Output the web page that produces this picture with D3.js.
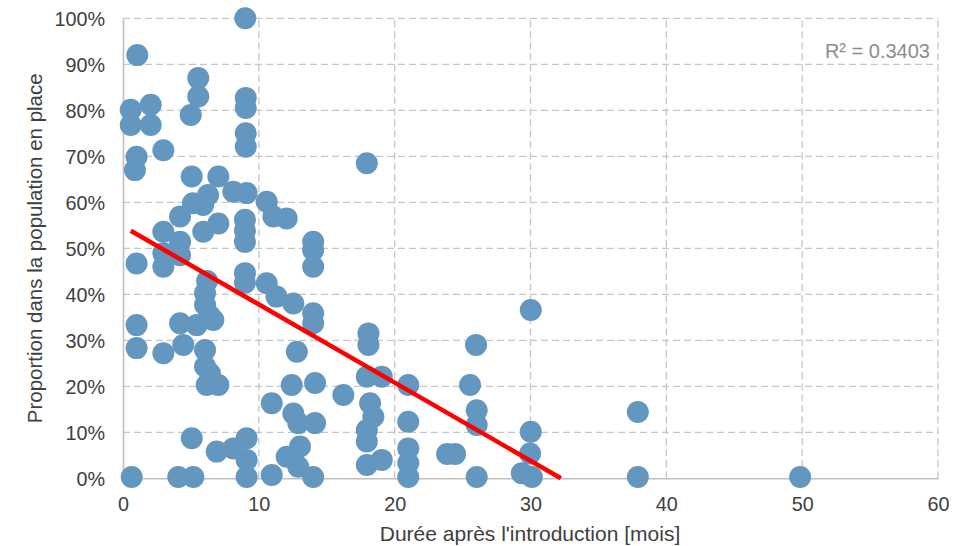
<!DOCTYPE html>
<html>
<head>
<meta charset="utf-8">
<script src="https://cdn.jsdelivr.net/npm/d3@7/dist/d3.min.js"></script>
<style>
  html, body { margin: 0; padding: 0; background: #ffffff; }
  svg { display: block; }
</style>
</head>
<body>
<svg id="chart" width="969" height="546"></svg>
<script>
// ---- Data ----
const months = [
  9.0, 1.05, 0.57, 2.04, 0.57, 2.04, 2.97, 1.0, 0.88, 5.54, 5.54, 4.99,
  9.04, 9.04, 9.04, 9.04, 5.06, 7.02, 5.15, 6.26, 5.9, 8.12, 9.1, 10.58,
  11.07, 12.05, 4.2, 2.97, 5.91, 7.02, 8.98, 8.98, 8.98, 4.2, 4.2, 2.97,
  2.97, 1.0, 6.19, 6.04, 6.04, 6.4, 8.98, 8.98, 10.58, 11.3, 12.54, 1.0,
  4.2, 5.43, 6.65, 1.0, 2.97, 4.44, 6.04, 6.04, 6.4, 6.16, 7.02, 12.8,
  10.95, 12.42, 14.14, 12.54, 12.9, 14.14, 5.06, 6.9, 8.12, 9.1, 9.1, 9.1,
  0.64, 4.07, 5.18, 10.95, 12.05, 13.03, 12.9, 14.0, 14.0, 14.0, 14.0, 14.0,
  14.0, 17.95, 18.07, 18.07, 17.95, 19.05, 16.22, 21.0, 18.19, 18.43, 17.95, 17.95,
  17.95, 19.05, 21.0, 21.0, 21.0, 21.0, 23.86, 24.45, 25.99, 25.55, 26.04, 26.04,
  26.04, 30.02, 30.02, 29.97, 29.36, 30.1, 37.9, 37.9, 49.85
];
const proportions = [
  1.000, 0.920, 0.801, 0.812, 0.768, 0.768, 0.713, 0.699, 0.670, 0.870, 0.830, 0.790,
  0.827, 0.805, 0.750, 0.721, 0.656, 0.656, 0.598, 0.616, 0.594, 0.623, 0.620, 0.601,
  0.569, 0.565, 0.569, 0.536, 0.536, 0.554, 0.562, 0.538, 0.514, 0.514, 0.485, 0.489,
  0.460, 0.467, 0.429, 0.403, 0.377, 0.353, 0.446, 0.425, 0.424, 0.395, 0.380, 0.333,
  0.337, 0.333, 0.344, 0.283, 0.272, 0.290, 0.279, 0.243, 0.228, 0.203, 0.203, 0.275,
  0.163, 0.203, 0.207, 0.141, 0.120, 0.120, 0.087, 0.058, 0.065, 0.087, 0.040, 0.003,
  0.003, 0.003, 0.003, 0.007, 0.047, 0.069, 0.025, 0.003, 0.514, 0.496, 0.460, 0.359,
  0.337, 0.685, 0.315, 0.290, 0.221, 0.221, 0.181, 0.203, 0.163, 0.134, 0.105, 0.080,
  0.029, 0.040, 0.123, 0.065, 0.033, 0.003, 0.053, 0.053, 0.290, 0.203, 0.148, 0.116,
  0.003, 0.366, 0.101, 0.054, 0.011, 0.003, 0.144, 0.003, 0.003
];
const trendSlope = -0.0170;     // per month
const trendIntercept = 0.5480;  // at 0 months
const rSquaredLabel = "R² = 0.3403";
const xTicks = [0, 10, 20, 30, 40, 50, 60];
const yTicks = [0, 0.1, 0.2, 0.3, 0.4, 0.5, 0.6, 0.7, 0.8, 0.9, 1.0];
const xTitle = "Durée après l'introduction [mois]";
const yTitle = "Proportion dans la population en place";

const points = months.map((m, i) => ({ x: m, y: proportions[i] }));

// ---- Layout ----
const svg = d3.select("#chart");
const plotLeft = 123, plotRight = 938, plotTop = 18.3, plotBottom = 478.3;
const x = d3.scaleLinear().domain([0, 60]).range([plotLeft, plotRight]);
const y = d3.scaleLinear().domain([0, 1]).range([plotBottom, plotTop]);
const font = "'Liberation Sans', Arial, sans-serif";
const textColor = "#404040";
const gridColor = "#c6c6c6";

// Grid lines (dashed)
const grid = svg.append("g");
grid.selectAll("line.gx").data(xTicks.filter(t => t > 0)).join("line")
  .attr("class", "gx")
  .attr("x1", d => x(d)).attr("x2", d => x(d))
  .attr("y1", y(0)).attr("y2", y(1))
  .attr("stroke", gridColor).attr("stroke-width", 1.3)
  .attr("stroke-dasharray", "7,4");
grid.selectAll("line.gy").data(yTicks.filter(t => t > 0)).join("line")
  .attr("class", "gy")
  .attr("x1", x(0)).attr("x2", x(60))
  .attr("y1", d => y(d)).attr("y2", d => y(d))
  .attr("stroke", gridColor).attr("stroke-width", 1.3)
  .attr("stroke-dasharray", "7,4");

// Axes
const xAxis = svg.append("g")
  .attr("transform", `translate(0,${y(0)})`)
  .call(d3.axisBottom(x).tickValues(xTicks).tickSize(0).tickPadding(19).tickFormat(d3.format("d")));
const yAxis = svg.append("g")
  .attr("transform", `translate(${x(0)},0)`)
  .call(d3.axisLeft(y).tickValues(yTicks).tickSize(0).tickPadding(18).tickFormat(d3.format(".0%")));
[xAxis, yAxis].forEach(a => {
  a.select(".domain").attr("stroke", "#bfbfbf").attr("stroke-width", 1.6);
  a.selectAll("text").attr("font-family", font).attr("font-size", 19.8).attr("fill", textColor);
});
yAxis.selectAll("text").attr("dy", "0.36em");

// Scatter points
svg.append("g").selectAll("circle").data(points).join("circle")
  .attr("cx", d => x(d.x))
  .attr("cy", d => y(d.y))
  .attr("r", 11)
  .attr("fill", "#6497bf");

// Linear trendline (clipped at y = 0)
const xStart = d3.min(months);
const xEnd = Math.min(d3.max(months), -trendIntercept / trendSlope);
svg.append("line")
  .attr("x1", x(xStart)).attr("y1", y(trendIntercept + trendSlope * xStart))
  .attr("x2", x(xEnd)).attr("y2", y(trendIntercept + trendSlope * xEnd))
  .attr("stroke", "#ff0000").attr("stroke-width", 4.5).attr("stroke-linecap", "butt");

// R² label
svg.append("text")
  .attr("x", 930).attr("y", 58)
  .attr("text-anchor", "end")
  .attr("font-family", font).attr("font-size", 20)
  .attr("fill", "#8c8c8c")
  .text(rSquaredLabel);

// Axis titles
svg.append("text")
  .attr("x", 530).attr("y", 541)
  .attr("text-anchor", "middle")
  .attr("font-family", font).attr("font-size", 21)
  .attr("fill", textColor)
  .text(xTitle);
svg.append("text")
  .attr("transform", `translate(42,${(plotTop + plotBottom) / 2}) rotate(-90)`)
  .attr("text-anchor", "middle")
  .attr("font-family", font).attr("font-size", 20.5)
  .attr("fill", textColor)
  .text(yTitle);
</script>
</body>
</html>
